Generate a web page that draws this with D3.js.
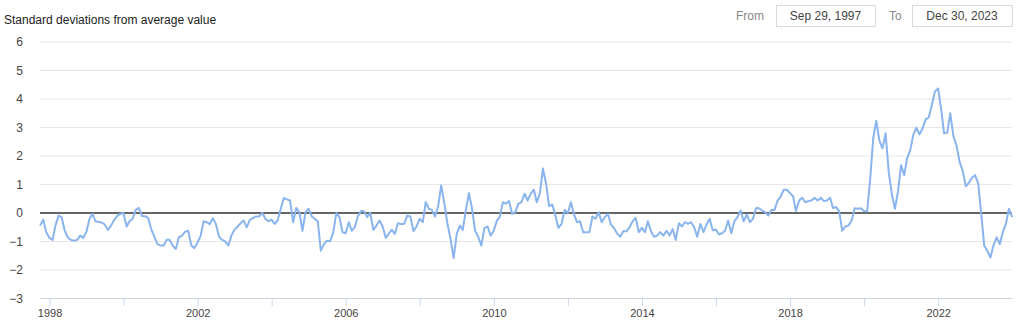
<!DOCTYPE html>
<html>
<head>
<meta charset="utf-8">
<script src="https://cdn.jsdelivr.net/npm/d3@7"></script>
<style>
  html, body { margin: 0; padding: 0; background: #fff; }
  svg { display: block; font-family: "Liberation Sans", Arial, sans-serif; }
  .grid line { stroke: #e6e6e6; stroke-width: 1; }
  .grid .zero line { stroke: #666; stroke-width: 2; }
  .grid path { display: none; }
  .grid text { fill: #444; font-size: 12px; }
  .x-axis path { stroke: #ccd3dc; }
  .x-axis line { stroke: #ccd6eb; }
  .x-axis text { fill: #444; font-size: 11px; }
  .series { fill: none; stroke: #8ab4ee; stroke-width: 2; stroke-linejoin: round; }
  .range-label { fill: #888; font-size: 12px; }
  .range-box { fill: #fff; stroke: #d9d9d9; }
  .range-text { fill: #444; font-size: 12px; }
</style>
</head>
<body>
<div id="chart"></div>
<script>
// Monthly values, Sep 1997 .. Dec 2023 (standard deviations from average)
const firstMonth = [1997, 8];
const values = [
  -0.46, -0.25, -0.69, -0.89, -0.96, -0.46, -0.11, -0.16, -0.64, -0.87,
  -0.96, -0.99, -0.96, -0.81, -0.89, -0.67, -0.22, -0.05, -0.31, -0.33,
  -0.35, -0.42, -0.61, -0.46, -0.26, -0.12, -0.05, -0.02, -0.49, -0.31,
  -0.22, 0.09, 0.16, -0.12, -0.13, -0.20, -0.58, -0.85, -1.11, -1.16,
  -1.16, -0.96, -0.96, -1.16, -1.28, -0.87, -0.81, -0.67, -0.64, -1.16,
  -1.25, -1.05, -0.82, -0.31, -0.34, -0.41, -0.20, -0.40, -0.85, -0.96,
  -1.01, -1.16, -0.81, -0.60, -0.49, -0.38, -0.28, -0.52, -0.26, -0.20,
  -0.14, -0.14, -0.01, -0.22, -0.31, -0.25, -0.40, -0.28, 0.13, 0.51,
  0.46, 0.42, -0.34, 0.16, 0.01, -0.64, 0.01, 0.13, -0.14, -0.22,
  -0.31, -1.34, -1.11, -0.99, -1.01, -0.69, -0.02, -0.16, -0.69, -0.73,
  -0.34, -0.64, -0.52, -0.14, 0.05, 0.04, -0.16, -0.01, -0.61, -0.46,
  -0.28, -0.49, -0.89, -0.75, -0.61, -0.75, -0.38, -0.40, -0.40, -0.11,
  -0.14, -0.66, -0.49, -0.22, -0.34, 0.36, 0.13, 0.09, -0.14, 0.21,
  0.95, 0.31, -0.40, -0.93, -1.60, -0.75, -0.46, -0.61, 0.09, 0.68,
  0.13, -0.64, -0.85, -1.16, -0.54, -0.49, -0.81, -0.64, -0.28, -0.16,
  0.36, 0.31, 0.40, -0.05, 0.01, 0.31, 0.36, 0.66, 0.42, 0.66,
  0.80, 0.36, 0.68, 1.54, 1.01, 0.22, 0.28, -0.11, -0.54, -0.40,
  0.09, -0.02, 0.36, -0.05, -0.34, -0.31, -0.69, -0.69, -0.69, -0.14,
  -0.22, 0.01, -0.34, -0.16, -0.05, -0.42, -0.54, -0.73, -0.85, -0.66,
  -0.66, -0.52, -0.31, -0.19, -0.69, -0.54, -0.69, -0.31, -0.66, -0.85,
  -0.81, -0.69, -0.81, -0.64, -0.81, -0.58, -0.96, -0.38, -0.49, -0.34,
  -0.40, -0.34, -0.52, -0.85, -0.40, -0.69, -0.42, -0.22, -0.62, -0.60,
  -0.77, -0.73, -0.64, -0.28, -0.73, -0.31, -0.16, 0.07, -0.31, -0.07,
  -0.34, -0.22, 0.16, 0.15, 0.07, 0.01, -0.11, 0.09, 0.09, 0.42,
  0.56, 0.80, 0.80, 0.68, 0.56, 0.05, 0.42, 0.52, 0.36, 0.40,
  0.42, 0.52, 0.42, 0.52, 0.40, 0.42, 0.52, 0.16, 0.19, 0.05,
  -0.64, -0.49, -0.46, -0.28, 0.15, 0.13, 0.15, 0.05, 0.04, 1.13,
  2.60, 3.22, 2.52, 2.25, 2.78, 1.42, 0.66, 0.13, 0.72, 1.66,
  1.31, 1.89, 2.19, 2.72, 2.98, 2.74, 2.95, 3.27, 3.34, 3.78,
  4.25, 4.35, 3.60, 2.78, 2.80, 3.48, 2.68, 2.36, 1.78, 1.46,
  0.92, 1.04, 1.22, 1.31, 1.01, 0.01, -1.16, -1.34, -1.58, -1.16,
  -0.87, -1.11, -0.69, -0.40, 0.13, -0.16
];

const yTicks = [-3, -2, -1, 0, 1, 2, 3, 4, 5, 6];
const xLabelYears = [1998, 2002, 2006, 2010, 2014, 2018, 2022];
const yTitle = 'Standard deviations from average value';
const rangeLabels = ['From', 'To'];
const rangeDates = ['Sep 29, 1997', 'Dec 30, 2023'];

const width = 1024, height = 332;
const margin = { top: 41.5, right: 12, bottom: 34, left: 40 };
const plotW = width - margin.left - margin.right;
const plotH = height - margin.top - margin.bottom;

const svg = d3.select('#chart').append('svg')
    .attr('width', width)
    .attr('height', height);

// last day of each month
const points = values.map((v, i) => ({
    date: new Date(firstMonth[0], firstMonth[1] + i + 1, 0),
    value: v
}));

const x = d3.scaleTime()
    .domain([new Date(1997, 8, 29), new Date(2023, 11, 30)])
    .range([0, plotW]);

const y = d3.scaleLinear()
    .domain([-3, 6])
    .range([plotH, 0]);

const g = svg.append('g')
    .attr('transform', `translate(${margin.left},${margin.top})`);

// Gridlines + y labels
const grid = g.append('g')
    .attr('class', 'grid')
    .call(d3.axisLeft(y)
        .tickValues(yTicks)
        .tickSize(-plotW)
        .tickPadding(17)
        .tickFormat(d3.format('d')));

grid.selectAll('.tick').classed('zero', d => d === 0);
grid.selectAll('.tick').filter(d => d === -3).select('line').remove();
grid.selectAll('.tick text').attr('dy', '0.35em');

// X axis
const xAxis = g.append('g')
    .attr('class', 'x-axis')
    .attr('transform', `translate(0,${plotH})`)
    .call(d3.axisBottom(x)
        .ticks(d3.timeYear.every(2))
        .tickSize(8)
        .tickSizeOuter(0)
        .tickFormat(d => xLabelYears.includes(d.getFullYear()) ? d.getFullYear() : ''));

xAxis.selectAll('.tick text').attr('y', 11);

// Series
const line = d3.line()
    .x(d => x(d.date))
    .y(d => y(d.value));

g.append('path')
    .datum(points)
    .attr('class', 'series')
    .attr('d', line);

// Header
svg.append('text')
    .attr('x', 4)
    .attr('y', 24)
    .attr('fill', '#222')
    .style('font-size', '12px')
    .text(yTitle);

const boxes = [
    { label: rangeLabels[0], labelX: 736, boxX: 776, boxW: 99, text: rangeDates[0] },
    { label: rangeLabels[1], labelX: 889, boxX: 912, boxW: 100, text: rangeDates[1] }
];

boxes.forEach(b => {
    svg.append('text')
        .attr('class', 'range-label')
        .attr('x', b.labelX)
        .attr('y', 20)
        .text(b.label);
    svg.append('rect')
        .attr('class', 'range-box')
        .attr('x', b.boxX + 0.5)
        .attr('y', 5.5)
        .attr('width', b.boxW)
        .attr('height', 21);
    svg.append('text')
        .attr('class', 'range-text')
        .attr('x', b.boxX + b.boxW / 2)
        .attr('y', 20)
        .attr('text-anchor', 'middle')
        .text(b.text);
});
</script>
</body>
</html>
